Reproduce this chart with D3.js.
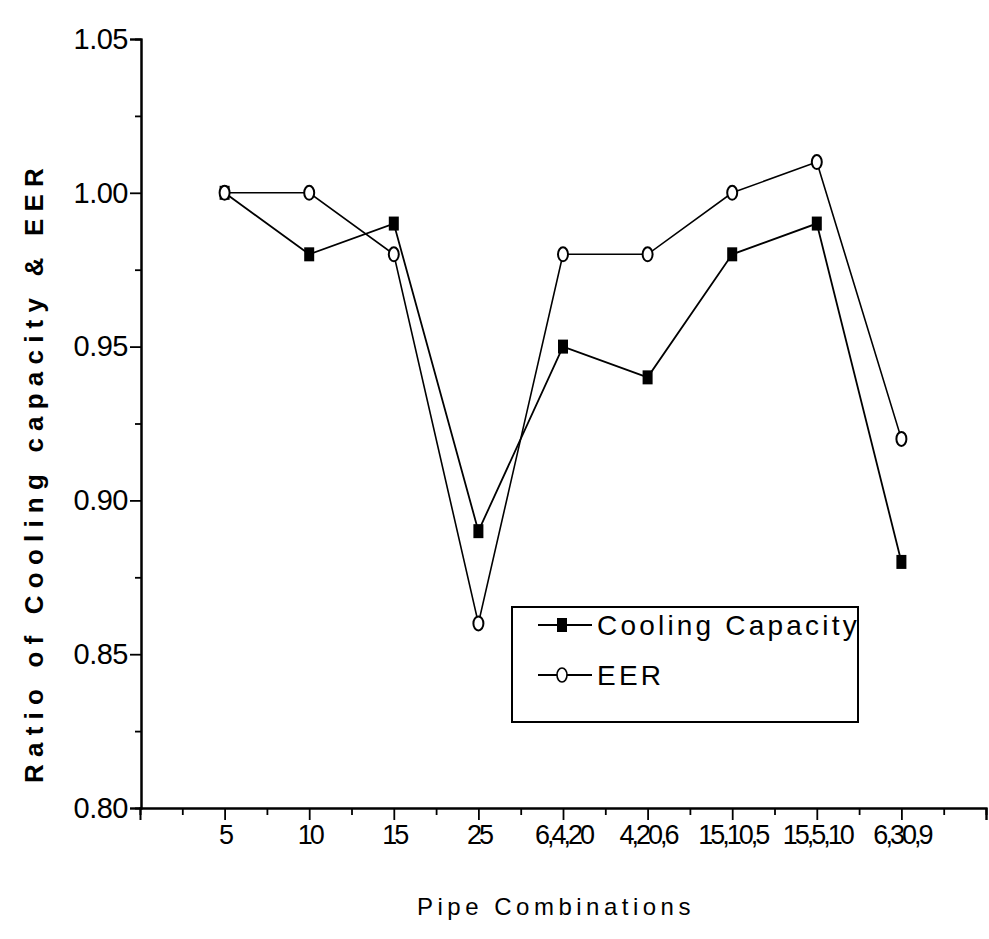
<!DOCTYPE html>
<html><head><meta charset="utf-8">
<script src="https://cdn.jsdelivr.net/npm/d3@7"></script>
<style>
body{margin:0;background:#fff;}
svg text{font-family:"Liberation Sans",Arial,Helvetica,sans-serif;fill:#000;}
</style></head>
<body><svg id="c" width="989" height="939"></svg>
<script>
const categories = ["5","10","15","25","6,4,20","4,20,6","15,10,5","15,5,10","6,30,9"];
const coolingCapacity = [1.00,0.98,0.99,0.89,0.95,0.94,0.98,0.99,0.88];
const eer = [1.00,1.00,0.98,0.86,0.98,0.98,1.00,1.01,0.92];
const yTicks = [0.80,0.85,0.90,0.95,1.00,1.05];
const yMinor = [0.825,0.875,0.925,0.975,1.025];
const seriesNames = ["Cooling Capacity","EER"];

const svg = d3.select("#c");
const x = d3.scaleLinear().domain([0,10]).range([140,986]);
const y = d3.scaleLinear().domain([0.80,1.05]).range([808,39]);

// Y axis
const yAx = svg.append("g").attr("transform","translate(141,0)")
  .call(d3.axisLeft(y).tickValues(yTicks).tickFormat(d3.format(".2f")).tickSize(11).tickPadding(2));
svg.append("g").attr("transform","translate(141,0)")
  .call(d3.axisLeft(y).tickValues(yMinor).tickFormat("").tickSize(6));
// X axis
const xMajor = d3.range(1,11);
const xMinor = d3.range(0.5,10,1);
const xAx = svg.append("g").attr("transform","translate(0,808)")
  .call(d3.axisBottom(x).tickValues(xMajor).tickFormat(d=>categories[d-1]||"").tickSize(12).tickPadding(5));
svg.append("g").attr("transform","translate(0,808)")
  .call(d3.axisBottom(x).tickValues(xMinor).tickFormat("").tickSize(7));

svg.selectAll(".domain").attr("stroke","#000").attr("stroke-width",2);
svg.selectAll(".tick line").attr("stroke","#000").attr("stroke-width",1.8);
yAx.selectAll(".tick text").attr("font-size",29).style("letter-spacing","-0.5px");
xAx.selectAll(".tick text").attr("font-size",27).style("letter-spacing","-3px");

// lines
const line = d3.line().x((d,i)=>x(i+1)).y(d=>y(d));
svg.append("path").datum(coolingCapacity).attr("d",line).attr("fill","none").attr("stroke","#000").attr("stroke-width",1.8);
svg.append("path").datum(eer).attr("d",line).attr("fill","none").attr("stroke","#000").attr("stroke-width",1.6);

// markers
svg.selectAll("rect.cc").data(coolingCapacity).enter().append("rect")
  .attr("x",(d,i)=>x(i+1)-5).attr("y",d=>y(d)-7).attr("width",10).attr("height",14).attr("fill","#000");
svg.selectAll("ellipse.eer").data(eer).enter().append("ellipse")
  .attr("cx",(d,i)=>x(i+1)).attr("cy",d=>y(d)).attr("rx",5).attr("ry",7)
  .attr("fill","#fff").attr("stroke","#000").attr("stroke-width",2);

// legend
const lg = svg.append("g");
lg.append("rect").attr("x",512).attr("y",607).attr("width",346).attr("height",115)
  .attr("fill","#fff").attr("stroke","#000").attr("stroke-width",2);
const rows = [{name:seriesNames[0],cy:625,type:"sq"},{name:seriesNames[1],cy:675,type:"ci"}];
rows.forEach(r=>{
  lg.append("line").attr("x1",538).attr("x2",592).attr("y1",r.cy).attr("y2",r.cy).attr("stroke","#000").attr("stroke-width",1.8);
  if(r.type==="sq") lg.append("rect").attr("x",557).attr("y",r.cy-7).attr("width",10).attr("height",14).attr("fill","#000");
  else lg.append("ellipse").attr("cx",562).attr("cy",r.cy).attr("rx",5).attr("ry",7).attr("fill","#fff").attr("stroke","#000").attr("stroke-width",1.6);
  lg.append("text").attr("x",597).attr("y",r.cy+10).style("font-size","28px").style("letter-spacing","3.2px").text(r.name);
});

// titles
svg.append("text").attr("transform","translate(43,472) rotate(-90)").attr("text-anchor","middle")
  .style("font-size","26px").style("font-weight","bold").style("letter-spacing","7.2px").text("Ratio of Cooling capacity & EER");
svg.append("text").attr("x",556).attr("y",915).attr("text-anchor","middle")
  .style("font-size","24px").style("letter-spacing","4.5px").text("Pipe Combinations");
</script></body></html>
